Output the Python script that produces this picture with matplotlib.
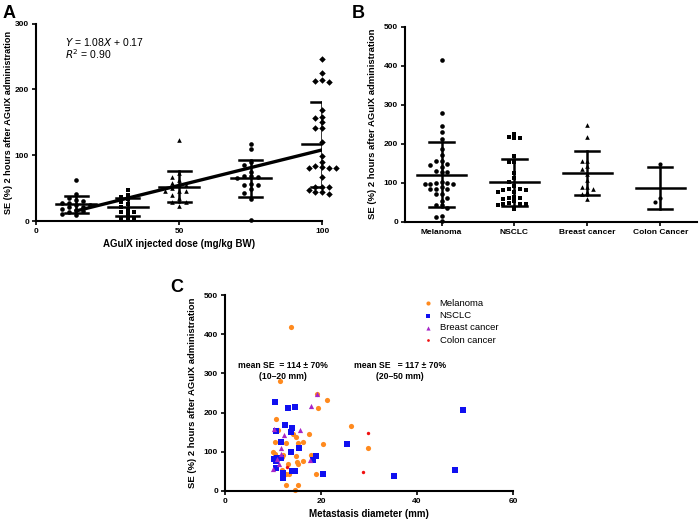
import numpy as np
import matplotlib
matplotlib.use('Agg')
import matplotlib.pyplot as plt

plt.rcParams['font.family'] = ['Liberation Sans', 'DejaVu Sans']

# ---- panel A: dose groups ----
doses = [14, 32, 50, 75, 100]
dose_markers = ['o', 's', '^', 'o', 'D']
se_15 = [62, 41, 35, 32, 30, 28, 27, 25, 24, 22, 21, 19, 17, 15, 13, 11, 9]
se_30 = [47, 40, 37, 33, 29, 26, 22, 17, 14, 14, 10, 4, 4, 3]
se_50 = [123, 73, 67, 62, 58, 55, 55, 50, 46, 45, 45, 40, 35, 29, 29, 23]
se_75 = [117, 110, 90, 85, 75, 68, 68, 67, 66, 57, 55, 54, 48, 42, 33, 2]
se_100 = [247, 225, 213, 212, 215, 169, 158, 151, 156, 142, 142, 120, 99, 84,
          80, 80, 80, 82, 90, 67, 51, 51, 51, 44, 41, 44, 47]
fit_slope, fit_icpt = 1.08, 0.17

# ---- panel B: cancer types ----
cancer_names = ['Melanoma', 'NSCLC', 'Breast cancer', 'Colon Cancer']
cancer_markers = ['o', 's', '^', 'o']
se_melanoma = [415, 279, 246, 229, 211, 187, 170, 155, 155, 147, 145, 139, 130,
               128, 128, 101, 98, 96, 96, 96, 98, 88, 83, 83, 83, 70, 70, 61,
               54, 43, 43, 34, 15, 13, 3]
se_nsclc = [226, 215, 215, 217, 169, 153, 153, 125, 111, 102, 91, 83, 81, 81,
            77, 83, 77, 60, 53, 64, 57, 62, 47, 46, 46, 46, 43, 32]
se_breast = [247, 216, 156, 156, 143, 135, 122, 107, 89, 83, 89, 75, 70, 57]
se_colon = [149, 61, 51]

# ---- panel C: diameter vs SE ----
mel_diam = [13.7, 11.5, 19.1, 21.3, 19.4, 10.6, 11.1, 10.4, 14.2, 14.9, 15.3,
            16.3, 12.7, 17.6, 20.5, 10.1, 10.4, 11.8, 12.1, 14.7, 15.2, 15.0,
            16.3, 18.0, 13.2, 11.8, 12.8, 13.4, 18.9, 12.8, 15.2, 14.6, 26.3, 29.7]
mel_se = [419, 281, 247, 232, 213, 185, 156, 124, 145, 139, 122, 126, 123, 145,
          120, 100, 95, 88, 92, 90, 70, 75, 77, 92, 69, 54, 43, 43, 43, 15, 15,
          3, 167, 110]
nsc_diam = [10.5, 13.2, 14.5, 12.6, 13.9, 13.7, 10.6, 11.7, 15.5, 13.7, 10.2,
            10.9, 10.6, 11.7, 10.6, 12.0, 12.0, 12.0, 14.0, 14.6, 18.9, 18.4,
            20.5, 25.4, 49.6, 47.9, 35.3]
nsc_se = [226, 213, 215, 168, 160, 150, 154, 126, 110, 99, 82, 85, 76, 85, 59,
          47, 32, 40, 52, 52, 90, 79, 43, 119, 207, 54, 39]
brc_diam = [10.2, 15.6, 12.2, 11.7, 11.7, 11.2, 10.1, 19.1, 18.0, 17.7, 10.9]
brc_se = [157, 156, 143, 109, 94, 70, 56, 247, 217, 79, 82]
col_diam = [13.0, 29.7, 28.7]
col_se = [60, 149, 49]

ylab = 'SE (%) 2 hours after AGuIX administration'
tick_kw = dict(labelsize=6, width=1.2, length=3, direction='out', pad=2)


def swarm(vals, step, ythr):
    # greedy side-by-side placement so points with close values don't overlap
    placed = []
    offs = np.zeros(len(vals))
    order = np.argsort(vals)[::-1]
    for i in order:
        v = vals[i]
        for k in [0, -1, 1, -2, 2, -3, 3, -4, 4, -5, 5]:
            if all(not (pk == k and abs(pv - v) < ythr) for pk, pv in placed):
                break
        placed.append((k, v))
        offs[i] = k * step
    return offs


def mean_sd(ax, x, vals, wmean, wcap, lw):
    m, s = np.mean(vals), np.std(vals, ddof=1)
    ax.plot([x - wmean / 2, x + wmean / 2], [m, m], color='black', lw=lw, zorder=4)
    ax.plot([x, x], [m - s, m + s], color='black', lw=lw, zorder=4)
    for yy in (m - s, m + s):
        ax.plot([x - wcap / 2, x + wcap / 2], [yy, yy], color='black', lw=lw, zorder=4)


def style(ax):
    ax.spines['top'].set_visible(False)
    ax.spines['right'].set_visible(False)
    ax.spines['left'].set_linewidth(1.5)
    ax.spines['bottom'].set_linewidth(1.5)
    ax.tick_params(**tick_kw)
    for t in ax.get_xticklabels() + ax.get_yticklabels():
        t.set_fontweight('bold')


fig = plt.figure(figsize=(7, 5.21), dpi=100)

# ---------------- A ----------------
axA = fig.add_axes([0.0514, 0.5758, 0.409, 0.3787])
groups = [se_15, se_30, se_50, se_75, se_100]
for d, g, mk in zip(doses, groups, dose_markers):
    g = np.array(g, dtype=float)
    xs = d + swarm(g, 2.4, 6.5)
    axA.scatter(xs, g, marker=mk, s=11, color='black', lw=0, zorder=3, clip_on=False)
    mean_sd(axA, d, g, 14, 8, 1.8)
xf = np.array([doses[0], doses[-1]])
axA.plot(xf, fit_slope * xf + fit_icpt, color='black', lw=2.4, zorder=5)
axA.set_xlim(0, 100)
axA.set_ylim(0, 300)
axA.set_xticks([0, 50, 100])
axA.set_yticks([0, 100, 200, 300])
style(axA)
axA.set_xlabel('AGuIX injected dose (mg/kg BW)', fontsize=7, fontweight='bold', labelpad=3)
axA.set_ylabel(ylab, fontsize=6.6, fontweight='bold', labelpad=1)
axA.text(10, 272, r'$Y$ = 1.08$X$ + 0.17', fontsize=7.5, va='center')
axA.text(10, 254, r'$R^2$ = 0.90', fontsize=7.5, va='center')

# ---------------- B ----------------
axB = fig.add_axes([0.5786, 0.5745, 0.417, 0.3743])
cgroups = [se_melanoma, se_nsclc, se_breast, se_colon]
for i, (g, mk) in enumerate(zip(cgroups, cancer_markers)):
    g = np.array(g, dtype=float)
    xs = i + swarm(g, 0.077, 11)
    sz = 11 if i < 3 else 9
    axB.scatter(xs, g, marker=mk, s=sz, color='black', lw=0, zorder=3, clip_on=False)
    mean_sd(axB, i, g, 0.66, 0.33, 1.8)
axB.set_xlim(-0.5, 3.5)
axB.set_ylim(0, 500)
axB.set_xticks(range(len(cancer_names)))
axB.set_xticklabels(cancer_names)
axB.set_yticks(range(0, 501, 100))
style(axB)
axB.set_ylabel(ylab, fontsize=6.8, fontweight='bold', labelpad=5)

# ---------------- C ----------------
axC = fig.add_axes([0.3214, 0.0576, 0.4114, 0.376])
axC.scatter(mel_diam, mel_se, marker='o', s=14, color='#FF8A1E', lw=0, label='Melanoma', clip_on=False)
axC.scatter(nsc_diam, nsc_se, marker='s', s=14, color='#1010F0', lw=0, label='NSCLC', clip_on=False)
axC.scatter(brc_diam, brc_se, marker='^', s=14, color='#A626C8', lw=0, label='Breast cancer', clip_on=False)
axC.scatter(col_diam, col_se, marker='o', s=6, color='#F01010', lw=0, label='Colon cancer', clip_on=False)
axC.set_xlim(0, 60)
axC.set_ylim(0, 500)
axC.set_xticks([0, 20, 40, 60])
axC.set_yticks(range(0, 501, 100))
style(axC)
axC.set_xlabel('Metastasis diameter (mm)', fontsize=7, fontweight='bold', labelpad=3)
axC.set_ylabel(ylab, fontsize=6.8, fontweight='bold', labelpad=5)
axC.legend(loc='upper left', bbox_to_anchor=(0.66, 1.0), frameon=False, fontsize=6.8,
           handletextpad=0.2, labelspacing=0.35, borderaxespad=0, markerscale=0.8)
axC.text(12.0, 306, 'mean SE  = 114 \u00b1 70%\n(10\u201320 mm)', fontsize=6.2,
         fontweight='bold', ha='center', va='center', linespacing=1.25)
axC.text(36.5, 306, 'mean SE   = 117 \u00b1 70%\n(20\u201350 mm)', fontsize=6.2,
         fontweight='bold', ha='center', va='center', linespacing=1.25)

# panel letters
fig.text(0.003, 0.99, 'A', fontsize=13, fontweight='bold', va='top')
fig.text(0.502, 0.99, 'B', fontsize=13, fontweight='bold', va='top')
fig.text(0.243, 0.465, 'C', fontsize=13, fontweight='bold', va='top')

fig.savefig('out.png', dpi=100)
